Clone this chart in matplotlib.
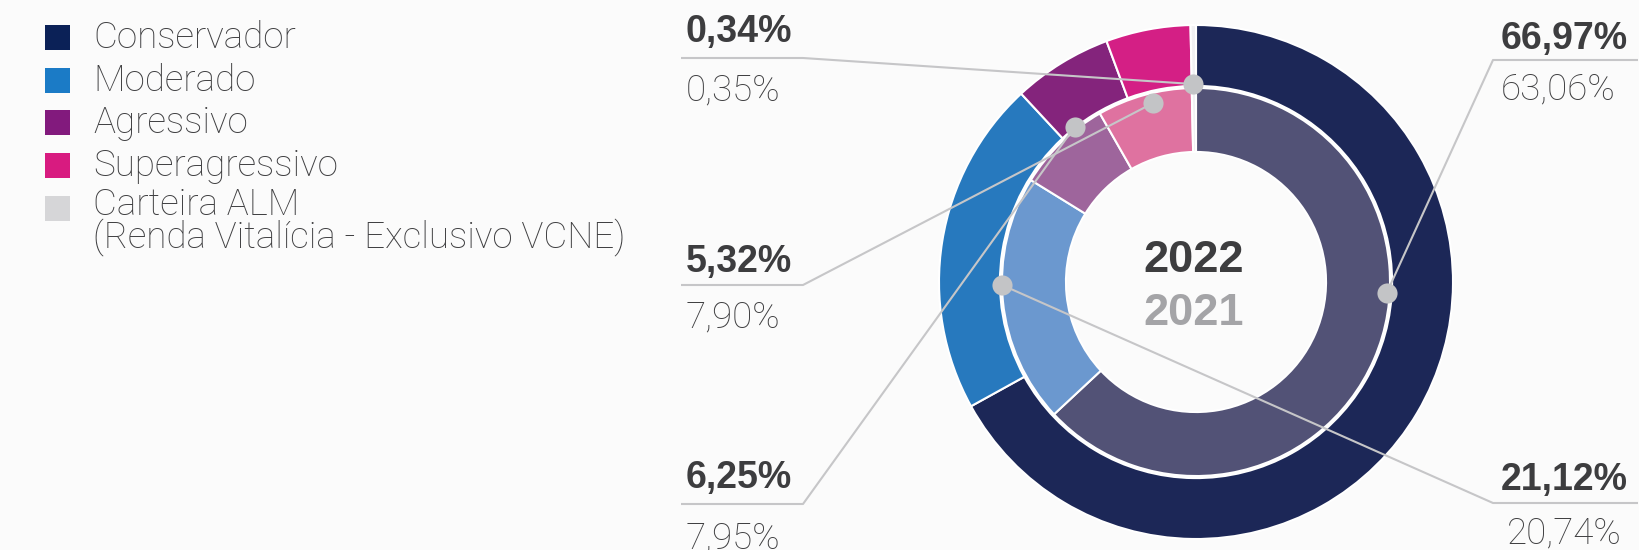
import numpy as np
import matplotlib.pyplot as plt

# Data
categories = ["Conservador", "Moderado", "Agressivo", "Superagressivo", "Carteira ALM"]
legend_labels = ["Conservador", "Moderado", "Agressivo", "Superagressivo",
                 "Carteira ALM\n(Renda Vitalícia - Exclusivo VCNE)"]
values_2022 = [66.97, 21.12, 6.25, 5.32, 0.34]
values_2021 = [63.06, 20.74, 7.95, 7.90, 0.35]
years = ["2022", "2021"]

# Colors
outer_colors = ["#1c2757", "#2779be", "#84247c", "#d41f85", "#f1f1f3"]
inner_colors = ["#525276", "#6b98cf", "#9e659c", "#df72a0", "#f1f1f3"]
legend_colors = ["#0b2157", "#1b7bc6", "#821a7d", "#d81b80", "#d6d6d8"]
BG = "#fbfbfb"
DARK = "#3d3d3f"
GRAY_TXT = "#3f3f41"
LINE = "#c6c6c8"

W, H = 1640, 550
CX, CY, R = 1196, 282, 257   # donut center / radius in pixels

fig = plt.figure(figsize=(W / 100, H / 100), dpi=100, facecolor=BG)

# donut axes
ax = fig.add_axes([(CX - R) / W, (H - CY - R) / H, 2 * R / W, 2 * R / H])
ax.pie(values_2022, radius=1, startangle=90, counterclock=False, colors=outer_colors,
       wedgeprops=dict(width=0.237, edgecolor="white", linewidth=1.5))
ax.pie(values_2021, radius=0.755, startangle=90, counterclock=False, colors=inner_colors,
       wedgeprops=dict(width=0.249, edgecolor="white", linewidth=1.5))
ax.set_xlim(-1, 1)
ax.set_ylim(-1, 1)
ax.set_aspect("equal")
ax.axis("off")

# overlay in pixel coordinates
ov = fig.add_axes([0, 0, 1, 1], facecolor="none")
ov.set_xlim(0, W)
ov.set_ylim(H, 0)
ov.axis("off")

light = dict(family="Roboto", fontweight="light", color=GRAY_TXT)
bold = dict(family="Liberation Sans", fontweight="bold", color=DARK)

# center years
ov.text(CX - 2, 272, years[0], ha="center", va="baseline", fontsize=32.5, **bold)
ov.text(CX - 2, 325, years[1], ha="center", va="baseline", fontsize=32.5,
        family="Liberation Sans", fontweight="bold", color="#a4a4a7")

# annotations: anchor angle (deg), anchor radius (px), side,
# bold x, light x, bold baseline, light baseline, underline y
anchors = {
    "Conservador":    (-3.3, 191, "right", 1628, 1616, 49, 99, 60),
    "Moderado":       (180.9, 194, "right", 1628, 1622, 490, 543, 503),
    "Agressivo":      (128.0, 197, "left", 686, 686, 488, 548, 504),
    "Superagressivo": (103.5, 184, "left", 686, 686, 272, 327, 285),
    "Carteira ALM":   (90.9, 198, "left", 686, 686, 42, 100, 58),
}

def fmt(v):
    return f"{v:.2f}".replace(".", ",") + "%"

for cat, v22, v21 in zip(categories, values_2022, values_2021):
    ang, rr, side, bx, lx, yb, yl, yu = anchors[cat]
    dx = CX + rr * np.cos(np.radians(ang))
    dy = CY - rr * np.sin(np.radians(ang))
    if side == "left":
        xs = [681, 803, dx]
        ha = "left"
    else:
        xs = [1638, 1493, dx]
        ha = "right"
    ov.plot(xs, [yu, yu, dy], color=LINE, lw=1.5, solid_capstyle="butt", zorder=3)
    ov.plot(dx, dy, "o", ms=14.5, color="#c3c4c6", mec="none", zorder=4)
    ov.text(bx, yb, fmt(v22), ha=ha, va="baseline", fontsize=27, **bold)
    ov.text(lx, yl, fmt(v21), ha=ha, va="baseline", fontsize=26.5, **light)

# legend
ys = [50, 93, 135, 178, 221]
for lab, col, y in zip(legend_labels, legend_colors, ys):
    ov.add_patch(plt.Rectangle((45, y - 25), 25, 25, color=col, lw=0))
    nl = lab.count("\n")
    ov.text(93, y - 2 + 28 * nl, lab, ha="left", va="baseline", fontsize=26.5,
            linespacing=0.82, **light)

fig.savefig("out.png", dpi=100, facecolor=BG)
